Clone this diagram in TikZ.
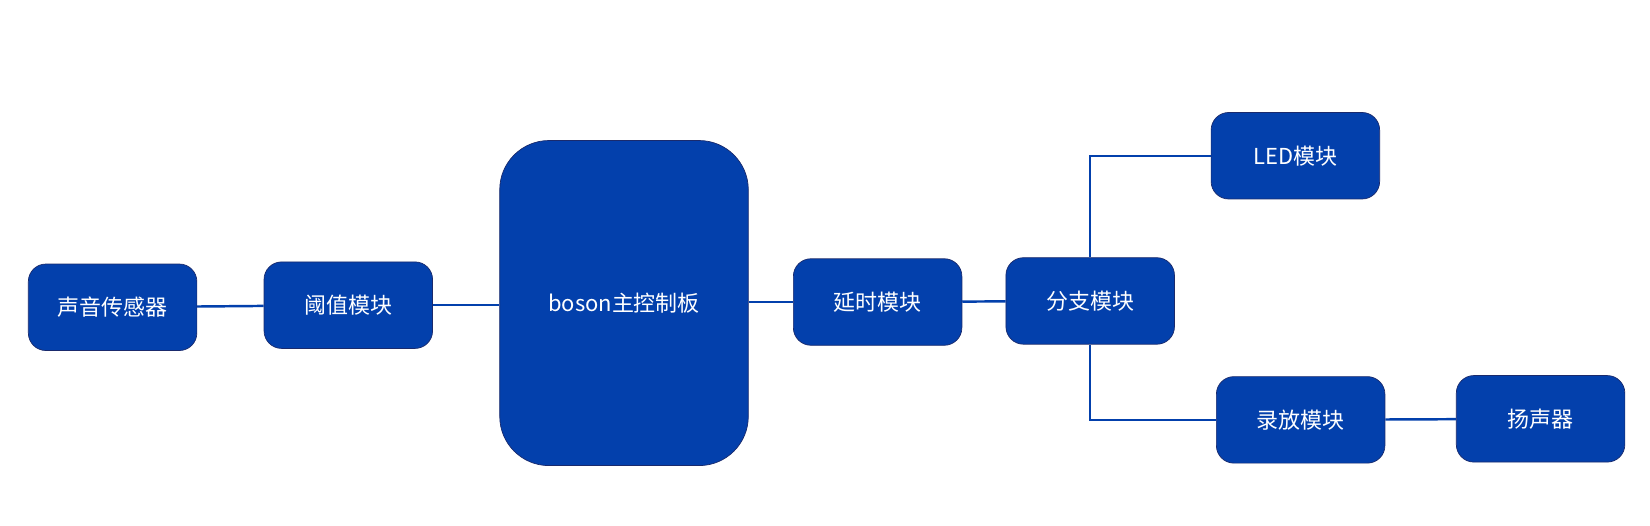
\documentclass[tikz,border=0pt]{standalone}
\usepackage{fontspec}
\setmainfont{Noto Sans CJK SC}
\usetikzlibrary{positioning}
\definecolor{boxblue}{HTML}{0340AC}
\definecolor{boxedge}{HTML}{1A2A6C}
\tikzset{
  module/.style={draw=boxedge, fill=boxblue, rounded corners=10pt, text=white,
    minimum width=3.37cm, minimum height=1.73cm, font=\fontsize{12.5}{14}\selectfont},
  wire/.style={draw=boxblue, line width=1.4pt},
}

\begin{document}
\begin{tikzpicture}[x=0.021046cm, y=-0.021046cm]
  \useasboundingbox (0,0) rectangle (1568,499);
  % modules
  \node[module] (sensor) at (107,292) {声音传感器};
  \node[module] (thresh) at (331,290) {阈值模块};
  \node[module, minimum width=4.97cm, minimum height=6.5cm, rounded corners=28pt] (boson) at (593,288) {boson主控制板};
  \node[module] (delay) at (834,287) {延时模块};
  \node[module] (branch) at (1036,286) {分支模块};
  \node[module] (led) at (1231,148) {LED模块};
  \node[module] (record) at (1236,399) {录放模块};
  \node[module] (speaker) at (1464,398) {扬声器};
  % wires
  \draw[wire] (sensor) -- (thresh);
  \draw[wire] (thresh) -- (boson.west |- thresh);
  \draw[wire] (boson.east |- delay) -- (delay);
  \draw[wire] (delay) -- (branch);
  \draw[wire] (branch.north) |- (led.west);
  \draw[wire] (branch.south) |- (record.west);
  \draw[wire] (record) -- (speaker);
\end{tikzpicture}
\end{document}
